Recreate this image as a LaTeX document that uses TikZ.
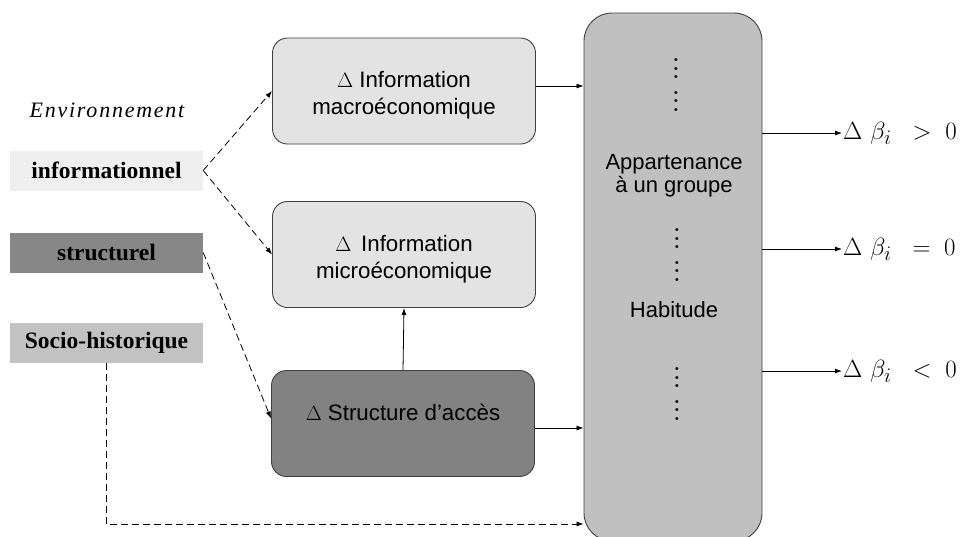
\documentclass[tikz,border=0pt]{standalone}
\usepackage{fontspec}
\setmainfont{Liberation Serif}
\setsansfont{Liberation Sans}
\newfontfamily\envfont[LetterSpace=8]{Liberation Serif}
\usepackage{tikz}
\usetikzlibrary{arrows.meta}
\definecolor{infofill}{HTML}{EFEFEF}
\definecolor{strucfill}{HTML}{878787}
\definecolor{sociofill}{HTML}{C2C2C2}
\definecolor{lightbox}{HTML}{E3E3E3}
\definecolor{darkbox}{HTML}{828282}
\definecolor{groupbox}{HTML}{C0C0C0}
\definecolor{edge}{HTML}{404040}
\newcommand{\dbeta}[1]{$\Delta\hspace{8pt}\beta_i\hspace{14pt}#1\;0$}
\newcommand{\dotstack}{•\\•\\•\\[6.6pt]•\\•\\•}

\begin{document}
\begin{tikzpicture}[x=1pt,y=-1pt]
        \tikzstyle{rbox} = [draw=edge, line width=0.9pt, rounded corners=15pt, minimum width=263pt, minimum height=106pt, align=center, font=\sffamily\fontsize{22.3}{27}\selectfont]
        \tikzstyle{twoline} = [text height=52pt, text depth=5pt]
        \tikzstyle{envbox} = [minimum width=193pt, minimum height=40pt, inner sep=0pt, font=\bfseries\fontsize{23.5}{26}\selectfont]
        \tikzstyle{grptext} = [align=center, font=\sffamily\fontsize{22}{23}\selectfont]
        \tikzstyle{dotcol} = [align=center, inner sep=0pt, font=\sffamily\fontsize{10.5}{8.7}\selectfont]
        \tikzstyle{outtext} = [anchor=west, inner sep=0pt, font=\fontsize{29}{31}\selectfont]
        \tikzstyle{arr} = [-{Latex[length=7pt,width=5pt]}, line width=0.8pt]
        \tikzstyle{darr} = [arr, dash pattern=on 7pt off 4pt]
        \useasboundingbox (0,0) rectangle (969,536);
        % environnement
        \node (env) [font=\envfont\itshape\fontsize{22}{24}\selectfont] at (107,110) {Environnement};
        \node (info) [envbox, fill=infofill] at (106.5,170.5) {informationnel};
        \node (struc) [envbox, fill=strucfill] at (106.5,252.5) {structurel};
        \node (socio) [envbox, fill=sociofill] at (106.5,342.5) {Socio-historique};
        % deltas
        \node (macro) [rbox, twoline, fill=lightbox] at (404,91) {$\Delta$ Information\\macroéconomique};
        \node (micro) [rbox, twoline, fill=lightbox] at (404,254.5) {$\Delta$ \,Information\\microéconomique};
        \node (acces) [rbox, fill=darkbox, text height=16pt, text depth=22pt] at (403,423.5) {$\Delta$ Structure d'accès};
        % comportement
        \node (grp) [draw=edge, line width=0.9pt, rounded corners=28pt, fill=groupbox, minimum width=178pt, minimum height=528pt] at (673,277) {};
        \node (dotsa) [dotcol] at (676,86) {\dotstack};
        \node (appart) [grptext] at (674,176) {Appartenance\\à un groupe};
        \node (dotsb) [dotcol] at (677,256) {\dotstack};
        \node (habit) [grptext] at (674,310) {Habitude};
        \node (dotsc) [dotcol] at (677,395) {\dotstack};
        % sorties
        \node (pos) [outtext] at (843,133) {\dbeta{>}};
        \node (nul) [outtext] at (843,249) {\dbeta{=}};
        \node (neg) [outtext] at (843,371) {\dbeta{<}};
        \draw[darr] (info.east) -- (macro.west);
        \draw[darr] (info.east) -- (micro.west);
        \draw[darr] (struc.east) -- ([yshift=5pt]acces.west);
        \draw[darr] (socio.south) |- (grp.west |- 0,524);
        \draw[arr] ([yshift=5pt]macro.east) -- ([yshift=5pt]macro.east -| grp.west);
        \draw[arr] ([yshift=-4.5pt]acces.east) -- ([yshift=-4.5pt]acces.east -| grp.west);
        \draw[arr] (acces.north) -- (micro.south);
        \draw[arr] (grp.east |- pos.west) -- ([xshift=-1pt]pos.west);
        \draw[arr] (grp.east |- nul.west) -- ([xshift=-1pt]nul.west);
        \draw[arr] (grp.east |- neg.west) -- ([xshift=-1pt]neg.west);
    \end{tikzpicture}
\end{document}
